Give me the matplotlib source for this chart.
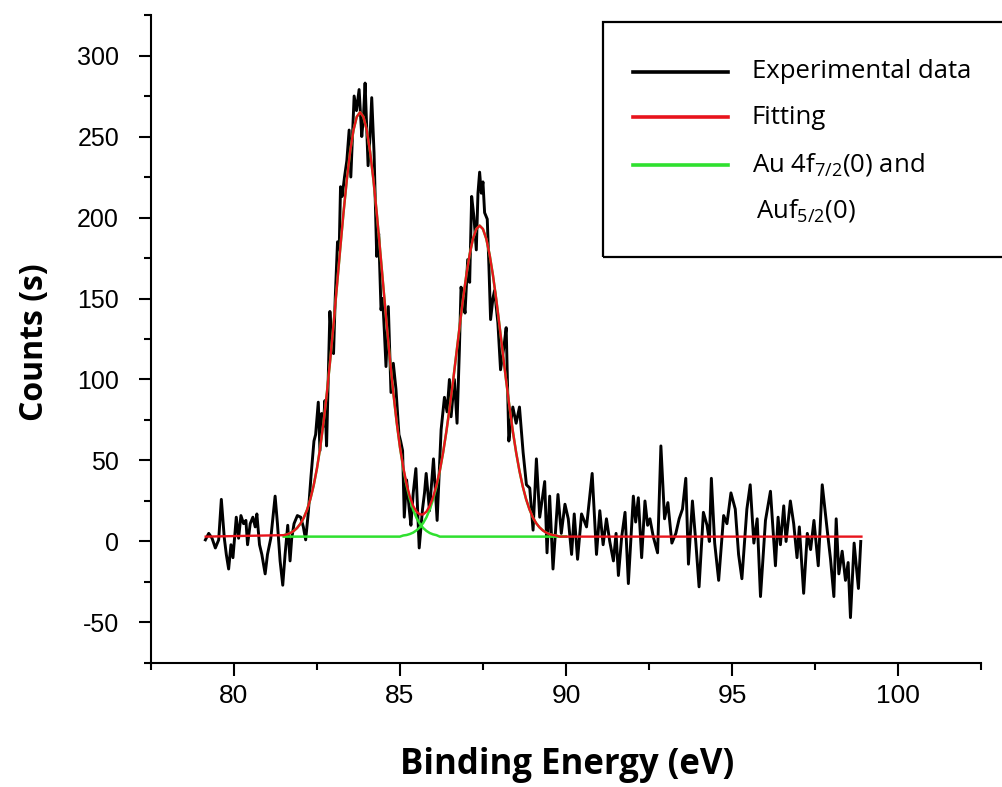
""" XPS Au 4f spectrum with two-component fit """

import matplotlib

matplotlib.use("Agg")
import matplotlib.pyplot as plt
import numpy as np
from matplotlib.lines import Line2D
from matplotlib.patches import Rectangle

plt.rcParams["font.family"] = ["Open Sans", "DejaVu Sans"]
plt.rcParams["mathtext.default"] = "regular"
plt.rcParams["axes.unicode_minus"] = False

# experimental data, split by region (binding energy in eV, counts)
be_left = [79.14, 79.24, 79.34, 79.44, 79.54, 79.62, 79.71, 79.77, 79.84, 79.91,
           79.97, 80.07, 80.14, 80.21, 80.29, 80.36, 80.41, 80.49, 80.57, 80.64,
           80.69, 80.77, 80.84, 80.94, 81.01, 81.11, 81.24, 81.31, 81.39, 81.47,
           81.54, 81.62, 81.69, 81.74, 81.81, 81.91, 82.01, 82.09, 82.16, 82.24]
cts_left = [1, 5, 2, -4, 1, 26, 2, -8, -17, -2,
            -10, 15, 2, 16, 11, 13, -2, 11, 15, 9,
            17, -2, -8, -20, -8, 2, 28, 11, -12, -27,
            -8, 10, -12, 2, 11, 16, 15, 9, 1, 18]

be_peak1 = [82.32, 82.41, 82.46, 82.54, 82.59, 82.64, 82.69, 82.74, 82.79, 82.84,
            82.89, 82.95, 83.00, 83.05, 83.12, 83.17, 83.21, 83.26, 83.33, 83.40,
            83.47, 83.52, 83.57, 83.62, 83.69, 83.77, 83.85, 83.90, 83.95, 84.04,
            84.10, 84.15, 84.22, 84.30, 84.36, 84.43, 84.48, 84.53, 84.58, 84.65,
            84.73, 84.80, 84.88, 84.97]
cts_peak1 = [40, 62, 66, 86, 56, 79, 71, 87, 59, 100,
             142, 120, 116, 150, 185, 180, 219, 213, 225, 235,
             254, 225, 250, 275, 266, 279, 250, 262, 283, 232,
             250, 274, 240, 176, 190, 143, 150, 130, 108, 145,
             92, 110, 94, 66]

be_peak2 = [85.02, 85.08, 85.13, 85.20, 85.28, 85.33, 85.40, 85.48, 85.58, 85.68,
            85.74, 85.79, 85.89, 85.95, 86.01, 86.12, 86.24, 86.34, 86.42, 86.49,
            86.54, 86.64, 86.72, 86.79, 86.84, 86.90, 86.96, 87.04, 87.10, 87.16,
            87.23, 87.30, 87.35, 87.40, 87.45, 87.50, 87.55, 87.63, 87.68, 87.73,
            87.80, 87.85, 87.95, 88.03, 88.13, 88.20, 88.28, 88.35, 88.40, 88.50,
            88.60, 88.71, 88.81, 88.91, 89.01, 89.11, 89.21, 89.36, 89.43, 89.51,
            89.61, 89.76, 89.86, 89.97]
cts_peak2 = [62, 56, 15, 38, 20, 10, 30, 45, -4, 20,
             30, 42, 19, 35, 51, 13, 69, 89, 80, 100,
             77, 100, 73, 118, 157, 150, 141, 174, 160, 213,
             200, 180, 215, 228, 215, 222, 203, 199, 170, 137,
             150, 155, 135, 106, 120, 132, 62, 75, 83, 73,
             83, 55, 35, 33, 7, 51, 15, 37, -7, 28,
             -17, 29, 5, 23]

be_right = [90.07, 90.17, 90.25, 90.35, 90.47, 90.62, 90.79, 90.92, 91.02, 91.12,
            91.22, 91.32, 91.43, 91.51, 91.58, 91.68, 91.78, 91.88, 92.03, 92.10,
            92.18, 92.28, 92.38, 92.46, 92.53, 92.63, 92.76, 92.86, 92.97, 93.07,
            93.19, 93.31, 93.41, 93.51, 93.61, 93.69, 93.81, 93.91, 94.01, 94.14,
            94.25, 94.32, 94.38, 94.48, 94.60, 94.75, 94.85, 94.97, 95.10, 95.20,
            95.30, 95.45, 95.55, 95.66, 95.76, 95.86, 96.01, 96.16, 96.31, 96.39,
            96.46, 96.56, 96.63, 96.76, 96.86, 96.96, 97.03, 97.16, 97.27, 97.37,
            97.47, 97.60, 97.72, 97.87, 97.97, 98.07, 98.14, 98.22, 98.32, 98.42,
            98.50, 98.57, 98.68, 98.81, 98.88]
cts_right = [14, -8, 17, -11, 17, 9, 42, -8, 19, -2,
             14, 0, -12, 5, -21, 3, 18, -26, 28, 12,
             27, -10, 25, 10, 14, 3, -7, 59, 14, 24,
             -1, 5, 14, 20, 39, -14, 25, 0, -28, 18,
             10, 0, 39, -1, -24, 16, 11, 30, 20, -8,
             -23, 20, 35, -1, 14, -34, 13, 31, -15, 15,
             -2, 22, 0, 25, 11, -10, 9, -32, 5, -5,
             13, -15, 35, 7, -11, -34, 14, -20, -6, -24,
             -13, -47, -1, -29, 0]

# fitted components, height above the baseline, on a 0.1 eV grid 81.5 .. 90.0
comp_be = np.linspace(81.5, 90.0, 86)
au_4f72 = [0.9, 1.4, 2.2, 3.5, 5.3, 7.9, 11.5, 16.4, 23.0, 31.5,
           42.1, 55.2, 70.8, 88.9, 109.1, 131.2, 154.2, 177.5, 200.0, 220.4,
           237.7, 250.9, 259.2, 262.0, 259.2, 250.9, 237.7, 220.4, 200.0, 177.5,
           154.2, 131.2, 109.1, 88.9, 70.8, 55.2, 42.1, 31.5, 23.0, 16.4,
           11.5, 7.9, 5.3, 3.5, 2.2, 1.4, 0.9] + [0.0] * 39
au_4f52 = [0.0] * 36 + [
           0.7, 1.0, 1.6, 2.5, 3.9, 5.8, 8.4, 12.0, 16.9, 23.1,
           30.9, 40.5, 51.9, 65.1, 80.0, 96.1, 113.0, 130.1, 146.6, 161.5,
           174.2, 183.9, 189.9, 192.0, 189.9, 183.9, 174.2, 161.5, 146.6, 130.1,
           113.0, 96.1, 80.0, 65.1, 51.9, 40.5, 30.9, 23.1, 16.9, 12.0,
           8.4, 5.8, 3.9, 2.5, 1.6, 1.0, 0.7] + [0.0] * 3
BASELINE = 3.0
FIT_START, FIT_END = 79.15, 98.9

RED = "#e8141c"
GREEN = "#2fe02f"

fig = plt.figure(figsize=(10.03, 7.87), dpi=100)
ax = fig.add_axes([0.1505, 0.1576, 0.8275, 0.8233])

energy = be_left + be_peak1 + be_peak2 + be_right
counts = cts_left + cts_peak1 + cts_peak2 + cts_right
ax.plot(energy, counts, color="black", lw=2.1, zorder=2)

c1 = np.array(au_4f72)
c2 = np.array(au_4f52)
ax.plot(comp_be, BASELINE + c1, color=GREEN, lw=1.8, zorder=3)
ax.plot(comp_be, BASELINE + c2, color=GREEN, lw=1.8, zorder=3)

fit_x = np.concatenate([[FIT_START], comp_be, [FIT_END]])
fit_y = np.concatenate([[BASELINE], BASELINE + c1 + c2, [BASELINE]])
ax.plot(fit_x, fit_y, color=RED, lw=1.7, zorder=4)

ax.set_xlim(77.5, 102.5)
ax.set_ylim(-75, 325)
ax.set_xticks([80, 85, 90, 95, 100])
ax.set_xticks(np.arange(77.5, 103, 2.5), minor=True)
ax.set_yticks(np.arange(-50, 301, 50))
ax.set_yticks(np.arange(-75, 326, 25), minor=True)

for side in ["top", "right"]:
    ax.spines[side].set_visible(False)
for side in ["left", "bottom"]:
    ax.spines[side].set_linewidth(1.5)
ax.tick_params(which="major", direction="out", length=9, width=1.5)
ax.tick_params(which="minor", direction="out", length=5, width=1.5)
ax.tick_params(axis="y", pad=14)
ax.tick_params(axis="x", pad=6)

for lab in ax.get_yticklabels():
    lab.set_fontfamily(["Liberation Sans", "DejaVu Sans"])
    lab.set_fontsize(18)
for lab in ax.get_xticklabels():
    lab.set_fontfamily(["Liberation Sans Narrow", "Liberation Sans", "DejaVu Sans"])
    lab.set_fontsize(19)

# axis titles
fig.text(567 / 1003, 1 - 765 / 787, "Binding Energy (eV)", ha="center",
         va="center", fontsize=25, fontweight="bold")
fig.text(35 / 1003, 1 - 342 / 787, "Counts (s)", ha="center", va="center",
         rotation="vertical", fontsize=23, fontweight="bold")

# legend box, running off the right edge
fig.add_artist(Rectangle((603 / 1003, 1 - 257 / 787), 0.45, 235 / 787,
                         transform=fig.transFigure, fill=False, lw=1.6,
                         edgecolor="black"))
rows = [("Experimental data", "black", 72),
        ("Fitting", RED, 117),
        ("Au 4f$_{7/2}$(0) and", GREEN, 165)]
for label, colour, ypix in rows:
    yy = 1 - ypix / 787
    fig.add_artist(Line2D([633 / 1003, 728 / 1003], [yy, yy], color=colour,
                          lw=2.6, transform=fig.transFigure))
    fig.text(752 / 1003, yy, label, ha="left", va="center", fontsize=18.5)
fig.text(756 / 1003, 1 - 210 / 787, "Auf$_{5/2}$(0)", ha="left", va="center",
         fontsize=18.5)

fig.savefig("out.png", dpi=100)
